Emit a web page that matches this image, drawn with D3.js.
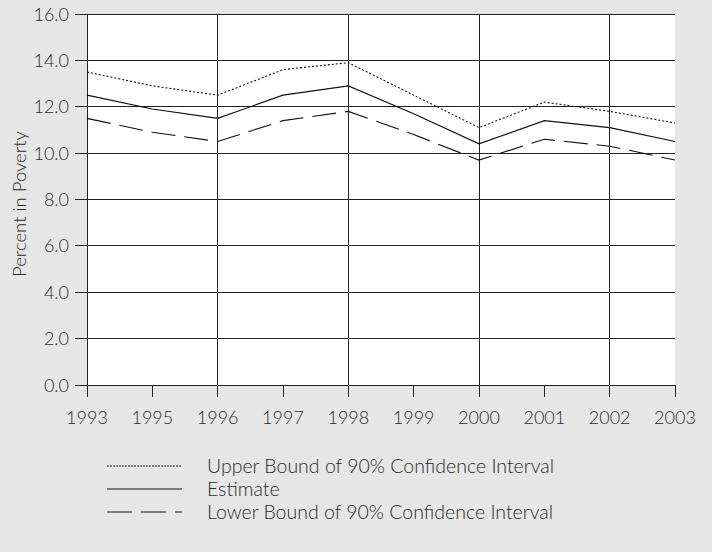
<!DOCTYPE html>
<html><head><meta charset="utf-8">
<script src="https://cdn.jsdelivr.net/npm/d3@7"></script>
<style>
html,body{margin:0;padding:0;background:#e6e6e6;}
svg{display:block;font-family:"Lato","Open Sans",sans-serif;font-weight:300;}
</style></head>
<body><svg id="c" width="712" height="552"></svg>
<script>
const years = ["1993","1995","1996","1997","1998","1999","2000","2001","2002","2003"];
const upper = [13.5,12.9,12.5,13.6,13.9,12.5,11.1,12.2,11.8,11.3];
const estimate = [12.5,11.9,11.5,12.5,12.9,11.7,10.4,11.4,11.1,10.5];
const lower = [11.5,10.9,10.5,11.4,11.8,10.8,9.7,10.6,10.3,9.7];
const yTicks = [0,2,4,6,8,10,12,14,16];
const vGridYears = ["1996","1998","2000","2002"];
const yLabel = "Percent in Poverty";
const legendLabels = ["Upper Bound of 90% Confidence Interval","Estimate","Lower Bound of 90% Confidence Interval"];

const svg = d3.select("#c");
const L=87,R=675,T=14,B=385;
const x = d3.scalePoint().domain(years).range([L,R]);
const y = d3.scaleLinear().domain([0,16]).range([B,T]);

svg.append("rect").attr("x",L).attr("y",T).attr("width",R-L).attr("height",B-T).attr("fill","#fff");

svg.append("g").selectAll("line").data(yTicks).join("line")
  .attr("x1",75).attr("x2",R).attr("y1",d=>y(d)).attr("y2",d=>y(d))
  .attr("stroke","#222").attr("stroke-width",1).attr("shape-rendering","crispEdges");
svg.append("g").selectAll("line").data(vGridYears).join("line")
  .attr("x1",d=>x(d)).attr("x2",d=>x(d)).attr("y1",T).attr("y2",B)
  .attr("stroke","#222").attr("stroke-width",1).attr("shape-rendering","crispEdges");
svg.append("line").attr("x1",L).attr("x2",L).attr("y1",T).attr("y2",B+12)
  .attr("stroke","#222").attr("shape-rendering","crispEdges");
svg.append("g").selectAll("line").data(years).join("line")
  .attr("x1",d=>x(d)).attr("x2",d=>x(d)).attr("y1",B).attr("y2",B+12)
  .attr("stroke","#222").attr("shape-rendering","crispEdges");

svg.append("g").selectAll("text").data(yTicks).join("text")
  .attr("x",69).attr("y",d=>y(d)+6.5).attr("text-anchor","end")
  .attr("font-size",18).attr("fill","#2a2a2a").text(d=>d.toFixed(1));
svg.append("g").selectAll("text").data(years).join("text")
  .attr("x",d=>x(d)).attr("y",424).attr("text-anchor","middle")
  .attr("font-size",18).attr("fill","#2a2a2a").text(d=>d);
svg.append("text").attr("transform","translate(26,204) rotate(-90)")
  .attr("text-anchor","middle").attr("font-size",18.5).attr("fill","#2a2a2a").text(yLabel);

const line = d3.line().x((d,i)=>x(years[i])).y(d=>y(d));
const styles = [{dash:"2,2"},{dash:null},{dash:"24,9"}];
[upper,estimate,lower].forEach((s,k)=>{
  svg.append("path").attr("d",line(s)).attr("fill","none")
    .attr("stroke","#111").attr("stroke-width",1.1)
    .attr("stroke-dasharray",styles[k].dash);
});

const legY=[466,489,512];
const lg = svg.append("g");
legendLabels.forEach((t,k)=>{
  lg.append("line").attr("x1",107).attr("x2",182).attr("y1",legY[k]).attr("y2",legY[k])
    .attr("stroke","#111").attr("stroke-width",1)
    .attr("stroke-dasharray",k===0?"2,1":(k===2?"25,9":null));
  lg.append("text").attr("x",207).attr("y",legY[k]+7).attr("font-size",19.5).attr("fill","#2a2a2a").text(t);
});
</script></body></html>
